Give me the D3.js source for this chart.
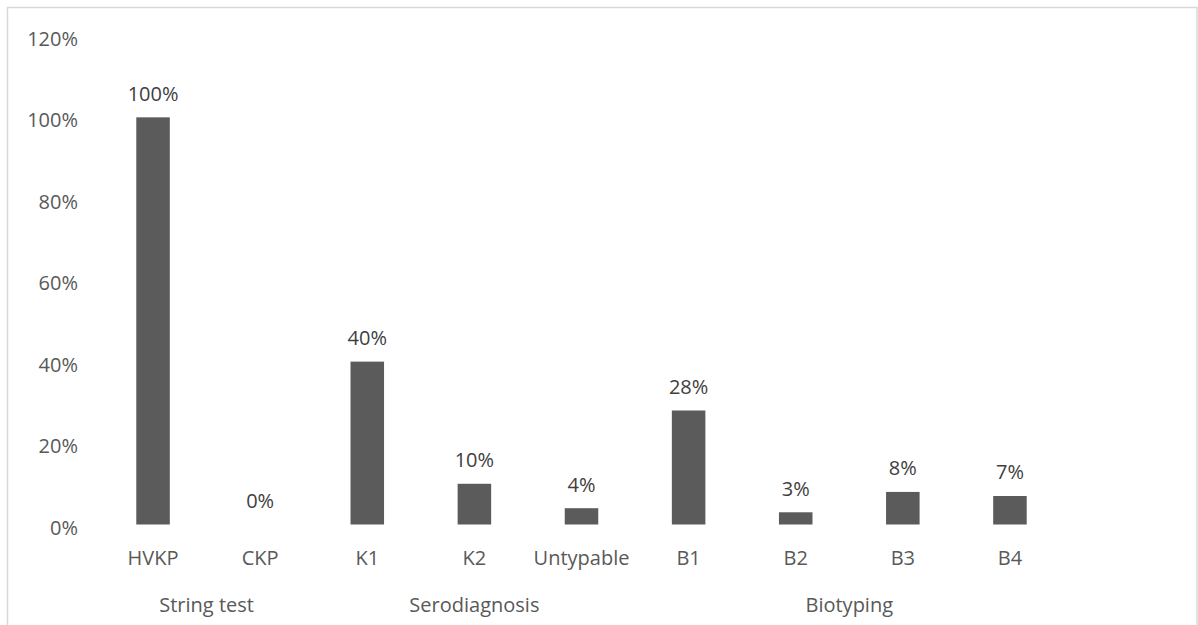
<!DOCTYPE html>
<html>
<head>
<meta charset="utf-8">
<script src="https://cdn.jsdelivr.net/npm/d3@7"></script>
<style>
  html, body { margin: 0; padding: 0; background: #ffffff; }
  svg { display: block; }
  text { font-family: "Open Sans", "Noto Sans", sans-serif; }
</style>
</head>
<body>
<svg id="chart" width="1198" height="625"></svg>
<script>
// Categories, grouped by test type
const categories = ["HVKP", "CKP", "K1", "K2", "Untypable", "B1", "B2", "B3", "B4"];
const groups = ["String test", "String test", "Serodiagnosis", "Serodiagnosis", "Serodiagnosis",
                "Biotyping", "Biotyping", "Biotyping", "Biotyping"];
const groupNames = ["String test", "Serodiagnosis", "Biotyping"];
// Share of isolates (fraction)
const values = [1.00, 0.00, 0.40, 0.10, 0.04, 0.28, 0.03, 0.08, 0.07];
// Value-axis ticks
const yTicks = [0, 0.2, 0.4, 0.6, 0.8, 1.0, 1.2];

const W = 1198, H = 625;
const svg = d3.select("#chart");

// Chart frame
svg.append("rect")
  .attr("x", 7.5).attr("y", 7.5)
  .attr("width", 1189.5).attr("height", 700)
  .attr("fill", "#ffffff")
  .attr("stroke", "#d9d9d9").attr("stroke-width", 1.5);

const x = d3.scaleBand()
  .domain(categories)
  .range([99.5, 1063.5])
  .paddingInner(0.687)
  .paddingOuter(0.3435);

const y = d3.scaleLinear()
  .domain([0, 1.2])
  .range([524.5, 35.9]);

const pct = d3.format(".0%");

// Value axis (labels only, no line or gridlines)
const yAxis = svg.append("g")
  .attr("transform", "translate(78,0)")
  .call(d3.axisLeft(y).tickValues(yTicks).tickFormat(pct).tickSize(0).tickPadding(0));
yAxis.select(".domain").remove();
yAxis.selectAll("text")
  .attr("dy", null)
  .attr("y", 9.5)
  .attr("font-family", "Open Sans")
  .attr("font-size", 20)
  .attr("fill", "#595959");

// Bars
svg.append("g").selectAll("rect")
  .data(values)
  .join("rect")
  .attr("x", (d, i) => x(categories[i]))
  .attr("width", x.bandwidth())
  .attr("y", d => y(d))
  .attr("height", d => y(0) - y(d))
  .attr("fill", "#5b5b5b");

// Data labels
svg.append("g").selectAll("text")
  .data(values)
  .join("text")
  .attr("x", (d, i) => x(categories[i]) + x.bandwidth() / 2)
  .attr("y", d => y(d) - 16.5)
  .attr("text-anchor", "middle")
  .attr("font-size", 20)
  .attr("fill", "#404040")
  .text(d => pct(d));

// Category axis (labels only)
const xAxis = svg.append("g")
  .attr("transform", "translate(0,545)")
  .call(d3.axisBottom(x).tickSize(0).tickPadding(0));
xAxis.select(".domain").remove();
xAxis.selectAll("text")
  .attr("dy", null)
  .attr("y", 20)
  .attr("font-family", "Open Sans")
  .attr("font-size", 20)
  .attr("fill", "#595959");

// Group labels centred under their categories
svg.append("g").selectAll("text")
  .data(groupNames)
  .join("text")
  .attr("x", g => {
    const cs = categories.filter((c, i) => groups[i] === g);
    const first = x(cs[0]), last = x(cs[cs.length - 1]) + x.bandwidth();
    return (first + last) / 2;
  })
  .attr("y", 612)
  .attr("text-anchor", "middle")
  .attr("font-size", 20)
  .attr("fill", "#595959")
  .text(g => g);
</script>
</body>
</html>
